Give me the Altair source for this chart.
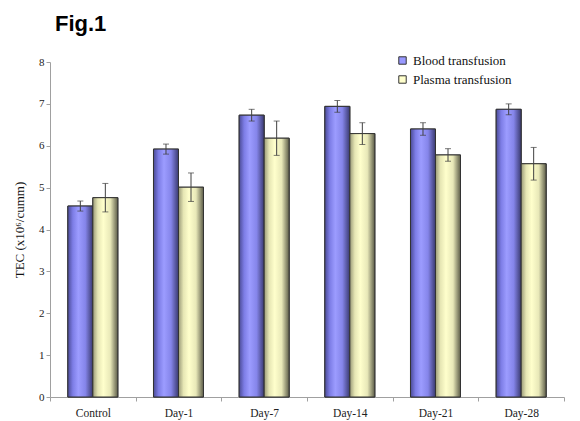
import altair as alt
import pandas as pd

# Group labels and series
categories = ["Control", "Day-1", "Day-7", "Day-14", "Day-21", "Day-28"]
series = ["Blood transfusion", "Plasma transfusion"]

# Mean TEC values and their error (± SE)
blood_mean = [4.56, 5.92, 6.73, 6.94, 6.40, 6.87]
blood_err = [0.12, 0.12, 0.14, 0.14, 0.15, 0.13]
plasma_mean = [4.76, 5.01, 6.18, 6.29, 5.78, 5.57]
plasma_err = [0.34, 0.34, 0.41, 0.26, 0.15, 0.39]

y_ticks = [0, 1, 2, 3, 4, 5, 6, 7, 8]

rows = []
for i, c in enumerate(categories):
    rows.append({"group": c, "series": series[0], "mean": blood_mean[i], "err": blood_err[i]})
    rows.append({"group": c, "series": series[1], "mean": plasma_mean[i], "err": plasma_err[i]})
df = pd.DataFrame(rows)
df["lo"] = df["mean"] - df["err"]
df["hi"] = df["mean"] + df["err"]

SERIF = "Liberation Serif"

# Cylinder-style horizontal shading for the bars
grad_blue = {
    "gradient": "linear", "x1": 0, "y1": 0, "x2": 1, "y2": 0,
    "stops": [
        {"offset": 0.0, "color": "#4b4b96"},
        {"offset": 0.2, "color": "#7d7de6"},
        {"offset": 0.42, "color": "#9c9cff"},
        {"offset": 0.7, "color": "#8585ea"},
        {"offset": 1.0, "color": "#3a3a70"},
    ],
}
grad_yellow = {
    "gradient": "linear", "x1": 0, "y1": 0, "x2": 1, "y2": 0,
    "stops": [
        {"offset": 0.0, "color": "#9a9a78"},
        {"offset": 0.2, "color": "#e6e6b4"},
        {"offset": 0.42, "color": "#ffffcc"},
        {"offset": 0.7, "color": "#e8e8b8"},
        {"offset": 1.0, "color": "#5c5c48"},
    ],
}

x_enc = alt.X(
    "group:N",
    sort=categories,
    scale=alt.Scale(paddingInner=0, paddingOuter=0),
    axis=alt.Axis(
        title=None, labelAngle=0, tickBand="extent", labelFont=SERIF,
        labelFontSize=11.5, labelColor="#222222", domainColor="#a0a0a0",
        tickColor="#a0a0a0", tickSize=4, labelPadding=6,
    ),
)
xo_enc = alt.XOffset("series:N", sort=series,
                     scale=alt.Scale(paddingInner=0, paddingOuter=0.713))
y_scale = alt.Scale(domain=[0, 8], nice=False)

base = alt.Chart(df)

flat_bars = base.mark_bar(stroke="#333333", strokeWidth=1).encode(
    x=x_enc,
    xOffset=xo_enc,
    y=alt.Y(
        "mean:Q",
        scale=y_scale,
        axis=alt.Axis(
            title="TEC (x10⁶/cumm)", values=y_ticks, grid=False,
            labelFont=SERIF, labelFontSize=11, labelColor="#222222",
            titleFont=SERIF, titleFontSize=13, titleFontWeight="normal",
            titleColor="#111111", titlePadding=12,
            domainColor="#a0a0a0", tickColor="#a0a0a0", tickSize=4,
        ),
    ),
    color=alt.Color(
        "series:N",
        sort=series,
        scale=alt.Scale(domain=series, range=["#9999ff", "#ffffcc"]),
        legend=alt.Legend(
            title=None, orient="none", legendX=346, legendY=-8,
            symbolType="square", symbolSize=55, symbolStrokeColor="#333333",
            symbolStrokeWidth=1, labelFont=SERIF, labelFontSize=13,
            labelColor="#111111", rowPadding=5, labelOffset=4,
        ),
    ),
)

shaded_bars = base.mark_bar(stroke="#333333", strokeWidth=1).encode(
    x=x_enc,
    xOffset=xo_enc,
    y=alt.Y("mean:Q", scale=y_scale),
    fill=alt.condition(alt.datum.series == series[0],
                       alt.value(grad_blue), alt.value(grad_yellow)),
)

err_rules = base.mark_rule(color="#404040", strokeWidth=1).encode(
    x=x_enc, xOffset=xo_enc,
    y=alt.Y("lo:Q", scale=y_scale), y2="hi:Q",
)
cap_lo = base.mark_tick(color="#404040", size=6, thickness=1).encode(
    x=x_enc, xOffset=xo_enc, y=alt.Y("lo:Q", scale=y_scale),
)
cap_hi = base.mark_tick(color="#404040", size=6, thickness=1).encode(
    x=x_enc, xOffset=xo_enc, y=alt.Y("hi:Q", scale=y_scale),
)

chart = (
    alt.layer(flat_bars, shaded_bars, err_rules, cap_lo, cap_hi)
    .properties(
        width=514, height=335,
        autosize="none",
        padding={"left": 50, "top": 62, "right": 16, "bottom": 24},
        background="white",
        title=alt.TitleParams(
            "Fig.1", anchor="start", frame="group", font="Liberation Sans",
            fontSize=22, fontWeight="bold", color="#000000", dx=5, offset=18,
        ),
    )
    .configure_view(stroke=None)
)

chart.save("out.html", embed_options={"renderer": "svg", "actions": False})
